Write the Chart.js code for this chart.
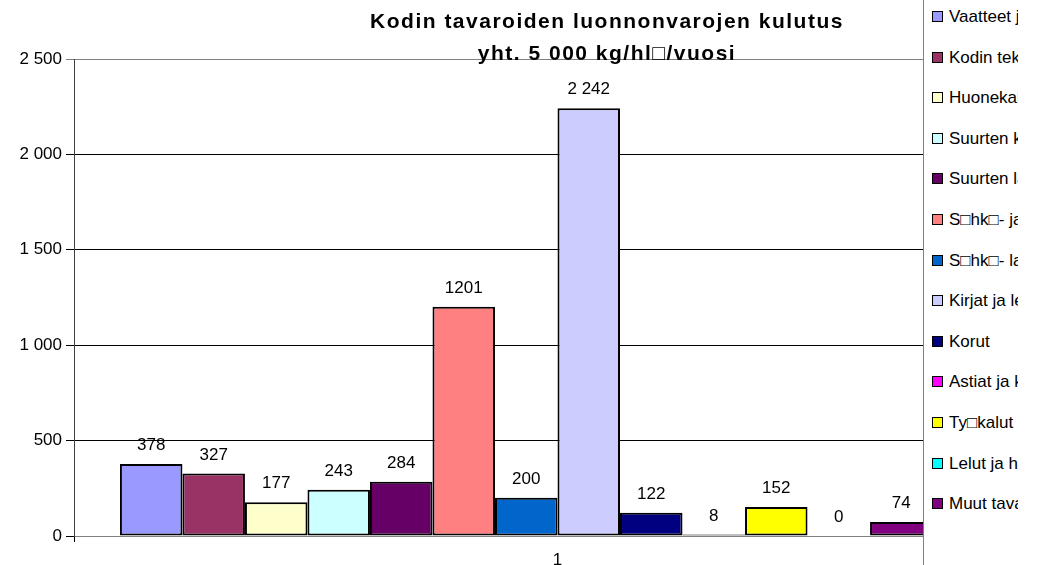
<!DOCTYPE html>
<html>
<head>
<meta charset="utf-8">
<script src="https://cdn.jsdelivr.net/npm/chart.js@4/dist/chart.umd.min.js"></script>
<style>
  html, body { margin: 0; padding: 0; overflow: hidden; background: #fff; }
  #wrap { position: relative; width: 1038px; height: 565px; overflow: hidden; }
  #chart { position: absolute; left: 0; top: 0; }
  #title {
    position: absolute; left: 307px; top: 5px; width: 600px;
    text-align: center; font: bold 21px "Liberation Sans", Arial, sans-serif;
    letter-spacing: 1.5px; line-height: 32px; color: #000; white-space: nowrap;
  }
  #legend {
    position: absolute; left: 923px; top: 0; width: 115px; height: 565px;
    background: #fff; border-left: 1px solid #808080;
  }
  .item {
    position: absolute; left: 8px; height: 22px; width: 86px; overflow: hidden;
    font: 17px "Liberation Sans", Arial, sans-serif; white-space: nowrap;
    line-height: 22px; color: #000;
  }
  .box {
    display: inline-block; width: 9px; height: 9px; border: 1px solid #000;
    margin-right: 6px; vertical-align: 0px;
  }
</style>
</head>
<body>
<div id="wrap">
  <canvas id="chart" width="1042" height="565"></canvas>
  <div id="title">Kodin tavaroiden luonnonvarojen kulutus<br>yht. 5 000 kg/hl□/vuosi</div>
  <div id="legend"></div>
</div>
<script>
const categories = ["1"];

const seriesNames = [
  "Vaatteet ja kengät",
  "Kodin tekstiilit",
  "Huonekalut",
  "Suurten kodinkoneiden",
  "Suurten laitteiden",
  "S□hk□- ja elektroniikka",
  "S□hk□- laitteet",
  "Kirjat ja lehdet",
  "Korut",
  "Astiat ja keittiö",
  "Ty□kalut",
  "Lelut ja harrastus",
  "Muut tavarat",
  "",
];

const seriesValues = [378, 327, 177, 243, 284, 1201, 200, 2242, 122, 8, 152, 0, 74, null];

const valueLabels = ["378", "327", "177", "243", "284", "1201", "200", "2 242", "122", "8", "152", "0", "74", ""];

const seriesColors = [
  "#9999FF", "#993366", "#FFFFCC", "#CCFFFF", "#660066", "#FF8080", "#0066CC",
  "#CCCCFF", "#000080", "#FF00FF", "#FFFF00", "#00FFFF", "#800080", "#800000",
];

const yTicks = [0, 500, 1000, 1500, 2000, 2500];
const yTickLabels = ["0", "500", "1 000", "1 500", "2 000", "2 500"];

const FONT = '"Liberation Sans", Arial, sans-serif';

const valueLabelPlugin = {
  id: "valueLabels",
  afterDatasetsDraw(chart) {
    const ctx = chart.ctx;
    ctx.save();
    ctx.font = "17px " + FONT;
    ctx.fillStyle = "#000";
    ctx.textAlign = "center";
    ctx.textBaseline = "middle";
    chart.data.datasets.forEach((ds, i) => {
      if (ds.data[0] === null) return;
      const bar = chart.getDatasetMeta(i).data[0];
      ctx.fillText(valueLabels[i], bar.x, bar.y - 18.5);
    });
    ctx.restore();
  },
};

const datasets = seriesNames.map((name, i) => ({
  label: name,
  data: [seriesValues[i]],
  backgroundColor: seriesColors[i],
  borderColor: "#000",
  borderWidth: 2,
  borderSkipped: false,
}));

new Chart(document.getElementById("chart"), {
  type: "bar",
  data: { labels: categories, datasets: datasets },
  options: {
    responsive: false,
    animation: false,
    categoryPercentage: 0.905,
    barPercentage: 1,
    layout: { padding: { top: 59, left: 0, right: 1, bottom: 0 } },
    plugins: {
      legend: { display: false },
      tooltip: { enabled: false },
    },
    scales: {
      x: {
        grid: {
          display: true,
          drawOnChartArea: false,
          color: "#000",
          tickLength: 6,
        },
        border: { color: "#808080", width: 1 },
        ticks: { color: "#000", padding: 8, font: { size: 17, family: FONT } },
        afterFit(scale) {
          scale.height = 29;
        },
      },
      y: {
        min: 0,
        max: 2500,
        afterBuildTicks(scale) {
          scale.ticks = yTicks.map((v) => ({ value: v }));
        },
        afterFit(scale) {
          scale.width = 74;
        },
        grid: {
          color: (c) => (c.tick && c.tick.value === 2500 ? "#808080" : "#000"),
          tickLength: 8,
        },
        border: { color: "#404040", width: 1 },
        ticks: {
          color: "#000",
          padding: 4,
          font: { size: 17, family: FONT },
          callback: (v, idx) => yTickLabels[idx],
        },
      },
    },
  },
  plugins: [valueLabelPlugin],
});

const legend = document.getElementById("legend");
seriesNames.slice(0, 13).forEach((name, i) => {
  const item = document.createElement("div");
  item.className = "item";
  item.style.top = 6 + i * 40.6 + "px";
  item.innerHTML = '<span class="box" style="background:' + seriesColors[i] + '"></span>' + name;
  legend.appendChild(item);
});
</script>
</body>
</html>
